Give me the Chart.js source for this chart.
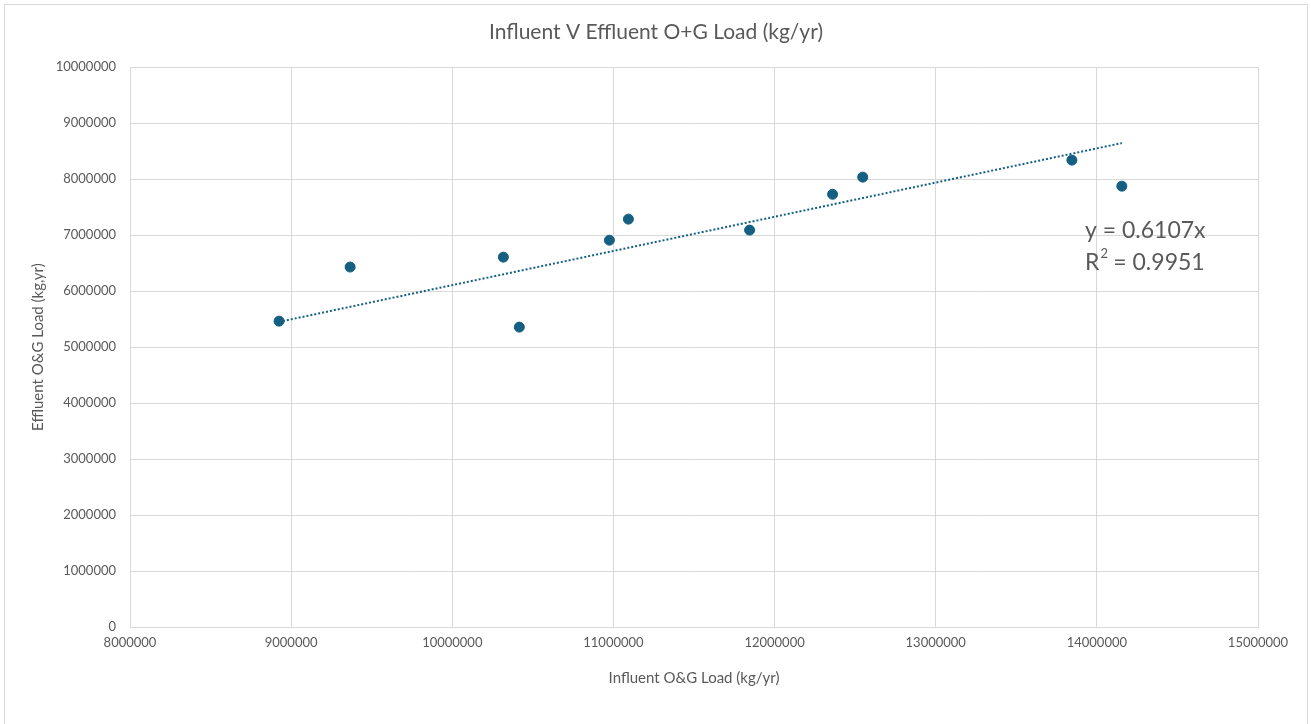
<!DOCTYPE html>
<html>
<head>
<meta charset="utf-8">
<script src="https://cdn.jsdelivr.net/npm/chart.js@4"></script>
<style>
  html, body { margin: 0; padding: 0; background: #fff; }
  #wrap { width: 1311px; height: 724px; }
</style>
</head>
<body>
<div id="wrap"><canvas id="loadChart" width="1311" height="724"></canvas></div>
<script>
// influent vs effluent O&G load
const influent = [8925000, 9366000, 10317000, 10416000, 10975000, 11093000, 11845000, 12360000, 12547000, 13845000, 14155000];
const effluent = [5464000, 6430000, 6607000, 5357000, 6910000, 7286000, 7090000, 7730000, 8036000, 8340000, 7875000];
const slope = 0.6107;
const rSquared = 0.9951;

const blue = '#156082';
const grey = '#595959';
const gridColor = '#d9d9d9';

const points = influent.map((x, i) => ({ x: x, y: effluent[i] }));
const xLo = Math.min(...influent);
const xHi = Math.max(...influent);
const trend = [{ x: xLo, y: slope * xLo }, { x: xHi, y: slope * xHi }];

// white background plus the light frame round the chart
const frame = {
    id: 'frame',
    beforeDraw(chart) {
        const c = chart.ctx;
        c.save();
        c.fillStyle = '#fff';
        c.fillRect(0, 0, chart.width, chart.height);
        c.strokeStyle = gridColor;
        c.lineWidth = 1;
        c.strokeRect(4.5, 4.5, 1303, 740);
        c.restore();
    }
};

// trendline equation label
const equation = {
    id: 'equation',
    afterDatasetsDraw(chart) {
        const c = chart.ctx;
        c.save();
        c.fillStyle = grey;
        c.font = '23px Lato';
        c.textBaseline = 'middle';
        c.textAlign = 'left';
        const x0 = 1085;
        c.fillText('y = ' + slope.toFixed(4) + 'x', x0, 231);
        c.fillText('R', x0, 263);
        const rw = c.measureText('R').width;
        c.font = '13px Lato';
        c.fillText('2', x0 + rw + 1, 254);
        c.font = '23px Lato';
        c.fillText(' = ' + rSquared.toFixed(4), x0 + rw + 8, 263);
        c.restore();
    }
};

const ctx = document.getElementById('loadChart').getContext('2d');
new Chart(ctx, {
    type: 'scatter',
    data: {
        datasets: [{
            label: 'O&G Load',
            data: points,
            backgroundColor: blue,
            borderColor: blue,
            pointRadius: 5,
            pointHoverRadius: 5
        }, {
            type: 'line',
            label: 'Trend',
            data: trend,
            borderColor: blue,
            borderWidth: 2,
            borderDash: [2, 2],
            pointRadius: 0,
            fill: false
        }]
    },
    options: {
        responsive: false,
        animation: false,
        layout: { padding: { left: 54, top: 10, right: 53, bottom: 30 } },
        plugins: {
            legend: { display: false },
            tooltip: { enabled: false },
            title: {
                display: true,
                text: 'Influent V Effluent O+G Load (kg/yr)',
                color: grey,
                font: { family: 'Lato', size: 21, weight: 'normal' },
                padding: { top: 10, bottom: 22 }
            }
        },
        scales: {
            x: {
                type: 'linear',
                min: 8000000,
                max: 15000000,
                ticks: {
                    stepSize: 1000000,
                    color: grey,
                    font: { family: 'Lato', size: 13 },
                    padding: 8,
                    callback: v => String(v)
                },
                grid: { color: gridColor, drawTicks: false },
                border: { color: gridColor },
                title: {
                    display: true,
                    text: 'Influent O&G Load (kg/yr)',
                    color: grey,
                    font: { family: 'Lato', size: 15 },
                    padding: { top: 0, bottom: 7 }
                },
                afterFit: s => { s.height = 67; }
            },
            y: {
                min: 0,
                max: 10000000,
                ticks: {
                    stepSize: 1000000,
                    color: grey,
                    font: { family: 'Lato', size: 13 },
                    padding: 14,
                    callback: v => String(v)
                },
                grid: { color: gridColor, drawTicks: false },
                border: { color: gridColor },
                title: {
                    display: true,
                    text: 'Effluent O&G Load (kg,yr)',
                    color: grey,
                    font: { family: 'Lato', size: 15 },
                    padding: { top: -25 }
                },
                afterFit: s => { s.width = 76; }
            }
        }
    },
    plugins: [frame, equation]
});
</script>
</body>
</html>
